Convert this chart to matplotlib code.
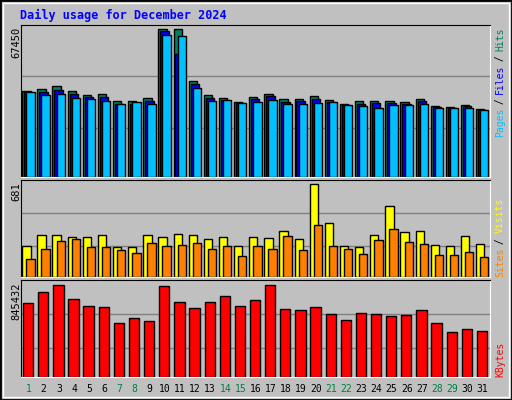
import matplotlib
matplotlib.use("Agg")
import matplotlib.pyplot as plt
from matplotlib.patches import Rectangle

days = list(range(1, 32))
weekend = [1, 7, 8, 14, 15, 21, 22, 28, 29]
hits = [39218, 40134, 41507, 39218, 37387, 37845, 34640, 34640, 36014, 67450, 67450, 43796, 37387, 36014, 34182, 36471,
        37845, 35556, 35556, 36929, 35098, 33267, 34640, 34640, 34640, 34182, 35556, 32351, 31893, 32809, 30978]
files = [38760, 38760, 39676, 37845, 36471, 36471, 33267, 33267, 34640, 66534, 56157, 42423, 36014, 35098, 33725, 35556,
         36929, 34182, 34640, 35556, 34182, 32809, 33267, 33725, 33725, 33267, 34640, 31893, 31436, 32351, 30520]
pages = [38608, 37387, 37845, 36014, 35556, 34640, 33267, 34182, 33267, 64855, 64397, 40592, 34640, 35098, 33725, 34182,
         35098, 33267, 33267, 33725, 34182, 32809, 32351, 31436, 32809, 32809, 33267, 31436, 31436, 31436, 30520]
visits = [224, 305, 305, 290, 290, 305, 216, 216, 305, 290, 312, 305, 275, 290, 224, 290,
          283, 334, 275, 681, 393, 224, 216, 305, 519, 327, 334, 231, 224, 297, 238]
sites = [135, 202, 261, 275, 216, 216, 194, 172, 246, 224, 231, 246, 202, 224, 150, 224,
         202, 297, 194, 379, 224, 202, 165, 268, 349, 253, 238, 157, 157, 179, 143]
kbytes = [678810, 780632, 845432, 715836, 651040, 641784, 493680, 539962, 512193, 836175, 688066, 632527, 688066,
          743605, 651040, 706579, 845432, 623271, 614014, 641784, 576988, 521449, 586245, 576988, 558475, 567731,
          614014, 493680, 419628, 447397, 428884]

W, H = 512, 400
fig = plt.figure(figsize=(W/100, H/100), dpi=100)
fig.patch.set_facecolor("#C0C0C0")
fig.add_artist(Rectangle((0, 0), 1, 1, transform=fig.transFigure, fill=False, lw=2, ec="black"))
fig.add_artist(Rectangle((3/W, 3/H), 1-6/W, 1-6/H, transform=fig.transFigure, fill=False, lw=1, ec="white"))

mono = "DejaVu Sans Mono"
fig.text(20/W, 1-15/H, "Daily usage for December 2024", color="#0000FF", fontsize=8.5,
         fontweight="bold", family=mono, va="center")

def mkax(top, bottom):
    ax = fig.add_axes([21/W, 1-bottom/H, 469/W, (bottom-top)/H])
    ax.set_facecolor("#C0C0C0")
    ax.set_xlim(0.5, 31.5)
    ax.set_xticks([]); ax.set_yticks([])
    for s in ["top", "left"]:
        ax.spines[s].set_color("black")
    for s in ["bottom", "right"]:
        ax.spines[s].set_color("white")
    return ax

kw = dict(edgecolor="black", linewidth=1, align="edge")
ax1 = mkax(25, 177)
ax1.set_ylim(0, 69433)
for g in [22585, 45933]:
    ax1.axhline(g, color="#808080", lw=1, zorder=0)
x = [d - 0.42 for d in days]
ax1.bar(x, hits, width=0.55, color="#00805F", **kw)
ax1.bar([v + 0.13 for v in x], files, width=0.55, color="#0000FF", **kw)
ax1.bar([v + 0.27 for v in x], pages, width=0.55, color="#00C0FF", **kw)

ax2 = mkax(180, 277)
ax2.set_ylim(0, 708)
for g in [224, 467]:
    ax2.axhline(g, color="#808080", lw=1, zorder=0)
ax2.bar(x, visits, width=0.55, color="#FFFF00", **kw)
ax2.bar([v + 0.27 for v in x], sites, width=0.55, color="#FF8000", **kw)

ax3 = mkax(280, 377)
ax3.set_ylim(0, 895000)
for g in [271500, 577000]:
    ax3.axhline(g, color="#808080", lw=1, zorder=0)
ax3.bar([d - 0.37 for d in days], kbytes, width=0.68, color="#FF0000", **kw)

for d in days:
    xp = (21 + (d - 0.5) * 469/31) / W
    fig.text(xp, 1-389/H, str(d), ha="center", va="center", fontsize=7, family=mono,
             color="#008040" if d in weekend else "black")

fig.text(16/W, 1-27/H, "67450", rotation=90, ha="center", va="top", fontsize=7.5, family=mono)
fig.text(16/W, 1-182/H, "681", rotation=90, ha="center", va="top", fontsize=7.5, family=mono)
fig.text(16/W, 1-282/H, "845432", rotation=90, ha="center", va="top", fontsize=7.5, family=mono)

def rlabel(parts, ybottom, total_px):
    n = sum(len(t) for t, _ in parts)
    step = total_px / n
    y = ybottom
    for txt, col in parts:
        fig.text(500/W, 1-y/H, txt, rotation=90, ha="center", va="bottom", fontsize=7,
                 family=mono, color=col, linespacing=1)
        y -= len(txt) * step

rlabel([("Pages", "#00C0FF"), (" / ", "black"), ("Files", "#0000FF"), (" / ", "black"), ("Hits", "#00805F")], 137, 108)
rlabel([("Sites", "#FF8000"), (" / ", "black"), ("Visits", "#FFFF00")], 277, 77)
rlabel([("KBytes", "#FF0000")], 377, 35)

fig.savefig("out.png", dpi=100, facecolor=fig.get_facecolor())
